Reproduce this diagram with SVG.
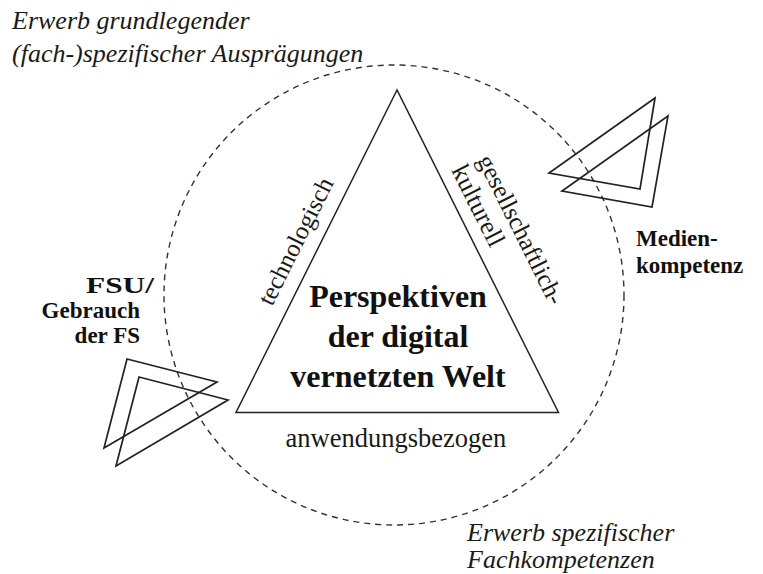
<svg xmlns="http://www.w3.org/2000/svg" width="763" height="574" viewBox="0 0 763 574">
<style>
  .bg { fill: #ffffff; }
  .tri { fill: none; stroke: #222; stroke-width: 1.5; stroke-linejoin: miter; }
  .small { fill: none; stroke: #222; stroke-width: 1.7; stroke-linejoin: miter; }
  .ring { fill: none; stroke: #333; stroke-width: 1.4; stroke-dasharray: 6 5; }
  .it { font-family: "Liberation Serif", "DejaVu Serif", serif; font-style: italic; font-size: 26px; fill: #1a1a1a; }
  .bold { font-family: "Liberation Serif", "DejaVu Serif", serif; font-weight: bold; font-size: 23px; fill: #111; }
  .title { font-family: "Liberation Serif", "DejaVu Serif", serif; font-weight: bold; font-size: 32px; fill: #111; }
  .reg { font-family: "Liberation Serif", "DejaVu Serif", serif; font-size: 25px; fill: #1a1a1a; }
</style>
<rect class="bg" x="0" y="0" width="763" height="574"/>

<g id="ring">
  <circle class="ring" cx="394" cy="295" r="230"/>
</g>

<g id="connectors"></g>

<g id="main-triangle">
  <polygon class="tri" points="397,90 236,412.5 558.5,412.5"/>
  <text class="title" x="398" y="307" text-anchor="middle">Perspektiven</text>
  <text class="title" x="398" y="347" text-anchor="middle">der digital</text>
  <text class="title" x="398" y="387" text-anchor="middle">vernetzten Welt</text>
</g>

<g id="label-technologisch">
  <text class="reg" transform="translate(303,245) rotate(-63.43)" text-anchor="middle">technologisch</text>
</g>

<g id="label-gesellschaftlich">
  <text class="reg" transform="translate(477,160) rotate(63.43)">gesellschaftlich-</text>
  <text class="reg" transform="translate(451,170) rotate(63.43)" style="font-size:26px">kulturell</text>
</g>

<g id="label-anwendungsbezogen">
  <text class="reg" x="396" y="447" text-anchor="middle" style="font-size:26.5px">anwendungsbezogen</text>
</g>

<g id="label-erwerb-grundlegend">
  <text class="it" x="12" y="29">Erwerb grundlegender</text>
  <text class="it" x="12" y="62">(fach-)spezifischer Ausprägungen</text>
</g>

<g id="label-erwerb-spezifisch">
  <text class="it" x="467" y="541">Erwerb spezifischer</text>
  <text class="it" x="467" y="568">Fachkompetenzen</text>
</g>

<g id="node-medienkompetenz">
  <polygon class="small" points="655,98 549,173 640,189"/>
  <polygon class="small" points="668,116 562,191 652,207"/>
  <text class="bold" x="636" y="246">Medien-</text>
  <text class="bold" x="636" y="273">kompetenz</text>
</g>

<g id="node-fsu">
  <polygon class="small" points="127,359 217,382 104,448"/>
  <polygon class="small" points="139,377 228,400 116,466"/>
  <text class="bold" x="86" y="293" textLength="68" lengthAdjust="spacingAndGlyphs">FSU/</text>
  <text class="bold" x="140" y="318" text-anchor="end">Gebrauch</text>
  <text class="bold" x="140" y="343" text-anchor="end">der FS</text>
</g>
</svg>
